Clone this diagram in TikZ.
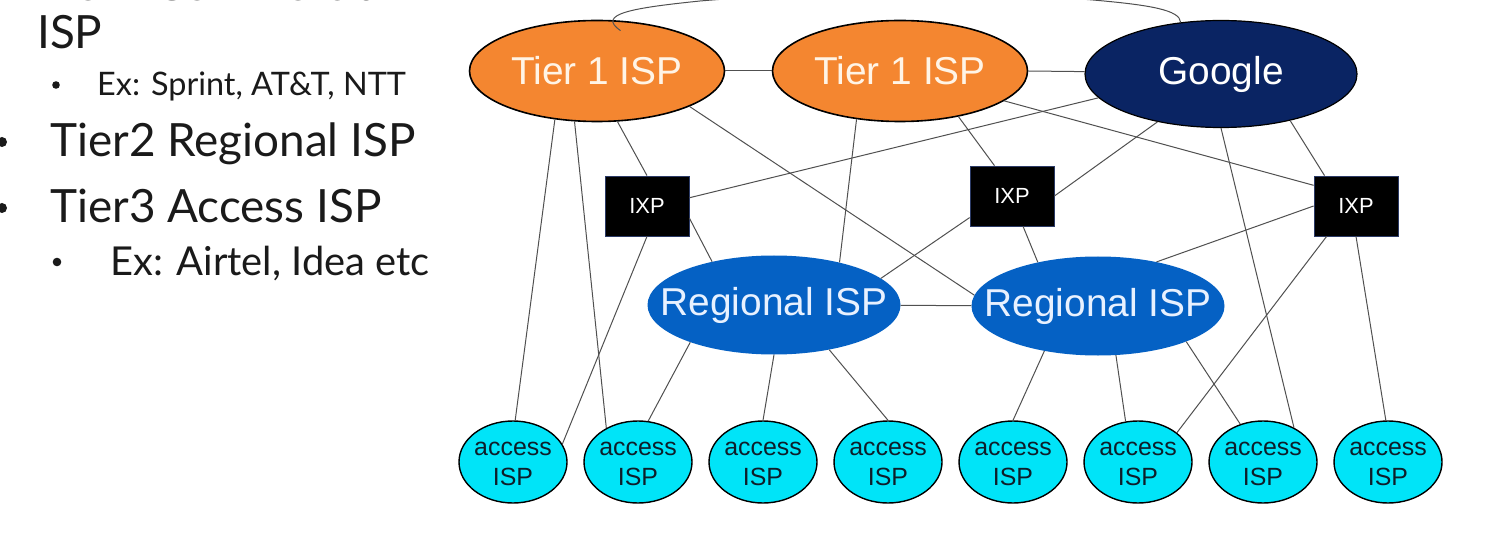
\documentclass[tikz,border=0pt]{standalone}
\usepackage{fontspec}
\setmainfont{Lato}
\newfontfamily\arialfont{Liberation Sans}
\usepackage{tikz}
\usetikzlibrary{arrows,shapes,positioning}
\usepackage{xcolor}

\definecolor{tierorange}{HTML}{F48630}
\definecolor{tiertext}{HTML}{FFF4E6}
\definecolor{googlenavy}{HTML}{0A2463}
\definecolor{regblue}{HTML}{0561C4}
\definecolor{regtext}{HTML}{E8F1FF}
\definecolor{accesscyan}{HTML}{00E4F8}
\definecolor{accesstext}{HTML}{0E1E2A}
\definecolor{ixpborder}{HTML}{2B3A66}
\definecolor{linkgray}{HTML}{505050}
\definecolor{slidetext}{HTML}{1A1A1A}

\begin{document}
\begin{tikzpicture}[x=1bp,y=-1bp,node distance=125bp]
  \tikzstyle{tier}=[ellipse,draw=black,line width=1.6bp,fill=tierorange,minimum width=255bp,minimum height=101bp,inner sep=0pt,text=tiertext,font=\arialfont\fontsize{39}{44}\selectfont]
  \tikzstyle{google}=[ellipse,draw=black,line width=1.2bp,fill=googlenavy,minimum width=272bp,minimum height=107bp,inner sep=0pt,text=white,font=\arialfont\fontsize{39}{44}\selectfont]
  \tikzstyle{ixp}=[rectangle,draw=ixpborder,line width=0.8bp,fill=black,minimum width=84bp,minimum height=60bp,inner sep=0pt,text=white,font=\arialfont\fontsize{22}{24}\selectfont]
  \tikzstyle{regional}=[ellipse,fill=regblue,minimum width=253bp,minimum height=99bp,inner sep=0pt,inner xsep=-25bp,text=regtext,font=\arialfont\fontsize{39}{44}\selectfont]
  \tikzstyle{access}=[ellipse,draw=black,line width=1.4bp,fill=accesscyan,minimum width=108bp,minimum height=82bp,inner sep=0pt,inner xsep=-10bp,align=center,text=accesstext,font=\arialfont\fontsize{25}{31}\selectfont]
  \tikzstyle{link}=[draw=linkgray,line width=1bp]
  \tikzstyle{slide}=[anchor=base west,inner sep=0pt,text=slidetext]

  \path[use as bounding box,fill=white] (0,0) rectangle (1501,550);
  \clip (0,0) rectangle (1501,550);

  % slide text on the left
  \node[slide,font=\fontsize{46}{52}\selectfont] (L0) at (37,1) {Tier1 Commercial};
  \node[slide,font=\fontsize{46}{52}\selectfont] (L1) at (37,49) {ISP};
  \node[slide,font=\fontsize{32.5}{38}\selectfont] (L2) at (97,96) {Ex: Sprint, AT\&T, NTT};
  \node[slide,font=\fontsize{46}{52}\selectfont] (L3) at (50,157) {Tier2 Regional ISP};
  \node[slide,font=\fontsize{46}{52}\selectfont] (L4) at (50,223) {Tier3 Access ISP};
  \node[slide,font=\fontsize{40}{46}\selectfont] (L5) at (110,276) {Ex: Airtel, Idea etc};
  \fill[slidetext] (56,85) circle (3.8);
  \fill[slidetext] (2,142) circle (5);
  \fill[slidetext] (2,208) circle (5);
  \fill[slidetext] (57,262) circle (4.3);

  % ISP graph
  \node[tier] (T1) at (597,71) {Tier 1 ISP};
  \node[tier] (T2) at (900,71) {Tier 1 ISP};
  \node[google] (G) at (1221,74) {Google};
  \node[ixp] (X1) at (647,206) {IXP};
  \node[ixp] (X2) at (1012,196) {IXP};
  \node[ixp] (X3) at (1356,206) {IXP};
  \node[regional] (R1) at (774,305) {Regional ISP};
  \node[regional] (R2) at (1098,306) {Regional ISP};
  \node[access] (A1) at (513,462) {\vphantom{I}access\\ISP};
  \node[access] (A2) [right of=A1] {\vphantom{I}access\\ISP};
  \node[access] (A3) [right of=A2] {\vphantom{I}access\\ISP};
  \node[access] (A4) [right of=A3] {\vphantom{I}access\\ISP};
  \node[access] (A5) [right of=A4] {\vphantom{I}access\\ISP};
  \node[access] (A6) [right of=A5] {\vphantom{I}access\\ISP};
  \node[access] (A7) [right of=A6] {\vphantom{I}access\\ISP};
  \node[access] (A8) [right of=A7] {\vphantom{I}access\\ISP};

  \path[link] (T1) edge (T2)
        (T2.east) edge (G.179)
        (T1.229) edge (A1.87)
        (T1.246) edge (A2.133)
        (T1.292) edge (X1.north)
        (T1.339) edge (R2.175)
        (T2.228) edge (R1.33)
        (T2.322) edge (X2.120)
        (T2.344) edge (X3.154)
        (G.191)  edge (X1.11)
        (G.217)  edge (X2.east)
        (G.south) edge (A7.48)
        (G.326)  edge (X3.136)
        (X1.344) edge (R1.145)
        (X1.south) edge (A1.20)
        (X2.207) edge (R1.14)
        (X2.290) edge (R2.144)
        (X3.west) edge (R2.37)
        (X3.226) edge (A6.37)
        (X3.south) edge (A8.93)
        (R1) edge (R2)
        (R1.204) edge (A2.76)
        (R1.south) edge (A3.north)
        (R1.321) edge (A4.north)
        (R2.220) edge (A5.north)
        (R2.290) edge (A6.107)
        (R2.338) edge (A7.121);

  % peering link over the top
  \draw[link] ([yshift=-10bp]T1.65) .. controls (596,14) and (632,8) .. (700,1)
        .. controls (800,-8) and (1000,-8) .. (1093,0)
        .. controls (1150,5) and (1180,10) .. (G.128);
\end{tikzpicture}
\end{document}
